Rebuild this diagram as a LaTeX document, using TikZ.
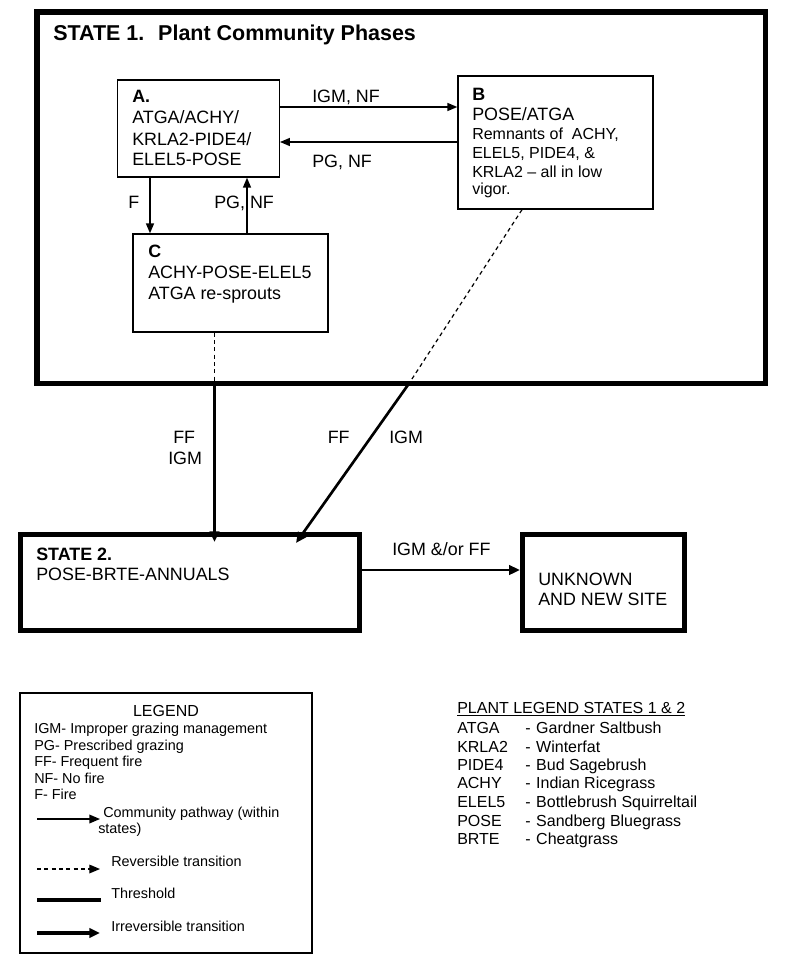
\documentclass[tikz,border=0pt]{standalone}
\usepackage{fontspec}
\setmainfont{Liberation Sans}
\usetikzlibrary{arrows.meta}
\begin{document}
\begin{tikzpicture}[x=0.75pt,y=-0.75pt,
  thinbox/.style={draw, rectangle, line width=1pt, inner sep=0pt},
  thickbox/.style={draw, rectangle, line width=3.6pt, inner sep=0pt},
  statebox/.style={draw, rectangle, line width=4.1pt, inner sep=0pt},
  txt/.style={anchor=base west, inner sep=0pt, font=\fontsize{13.4}{16}\selectfont},
  txtsm/.style={anchor=base west, inner sep=0pt, font=\fontsize{12}{14}\selectfont},
  bold/.style={anchor=base west, inner sep=0pt, font=\bfseries\fontsize{13.4}{16}\selectfont},
  leg/.style={anchor=base west, inner sep=0pt, font=\fontsize{10.8}{13}\selectfont},
  plant/.style={anchor=base west, inner sep=0pt, font=\fontsize{12}{14}\selectfont},
  pathway/.style={line width=1.1pt, -{Triangle[length=7.5pt,width=6pt]}},
  revers/.style={line width=0.9pt, dash pattern=on 3pt off 2.5pt},
  irrev/.style={line width=2pt, -{Triangle[length=8pt,width=7pt]}},
  thresh/.style={line width=3pt},
  legirrev/.style={line width=2.3pt, -{Triangle[length=8pt,width=7pt]}},
  legpath/.style={line width=1.1pt, -{Triangle[length=8pt,width=6.5pt]}},
  legrev/.style={line width=0.9pt, dash pattern=on 3pt off 2.5pt, -{Triangle[length=8pt,width=6.5pt]}}
]
\useasboundingbox (0,0) rectangle (800,977);
\fill[white] (0,0) rectangle (800,977);

% ---- boxes ----
\node[statebox, minimum width=546.4pt, minimum height=278.6pt] (S1) at (401.25,197.75) {};
\node[thinbox, minimum width=121.5pt, minimum height=72.75pt] (A) at (198.3,128.5) {};
\node[thinbox, minimum width=146.25pt, minimum height=99.75pt] (B) at (555.5,142.5) {};
\node[thinbox, minimum width=146.25pt, minimum height=73.5pt] (C) at (230.5,283) {};
\node[thickbox, minimum width=254.5pt, minimum height=72.3pt] (S2) at (190,582.5) {};
\node[thickbox, minimum width=121.8pt, minimum height=72.3pt] (U) at (603.5,582.5) {};
\node[thinbox, minimum width=219pt, minimum height=195pt] (L) at (166,823) {};

% ---- title ----
\node[anchor=base west, inner sep=0pt, font=\bfseries\fontsize{16.1}{19}\selectfont] (title) at (53,41) {STATE 1.~ Plant Community Phases};

% ---- box A text ----
\node[bold] (a0) at (132,103) {A.};
\node[txt] (a1) at (132,124) {ATGA/ACHY/};
\node[txt] (a2) at (132,146) {KRLA2-PIDE4/};
\node[txt] (a3) at (132,166) {ELEL5-POSE};

% ---- box B text ----
\node[bold] (b0) at (472,101) {B};
\node[txt] (b1) at (472,121) {POSE/ATGA};
\node[txtsm] (b2) at (472,140) {Remnants of~ ACHY,};
\node[txtsm] (b3) at (472,158) {ELEL5, PIDE4, \&};
\node[txtsm] (b4) at (472,177) {KRLA2 – all in low};
\node[txtsm] (b5) at (472,195) {vigor.};

% ---- box C text ----
\node[bold] (c0) at (148,257) {C};
\node[txt] (c1) at (148,278) {ACHY-POSE-ELEL5};
\node[txt] (c2) at (148,299) {ATGA re-sprouts};

% ---- state 2 and unknown text ----
\node[bold] (s20) at (36,560) {STATE 2.};
\node[txt] (s21) at (36,580) {POSE-BRTE-ANNUALS};
\node[txt] (u1) at (538,585) {UNKNOWN};
\node[txt] (u2) at (538,605) {AND NEW SITE};

% ---- helper coordinates ----
\coordinate (yAB) at (0,107);
\coordinate (yBA) at (0,142);
\coordinate (xAC) at (150,0);
\coordinate (xCA) at (247,0);
\coordinate (xCS) at (214.5,0);
\coordinate (xBS) at (522,0);
\coordinate (P1) at (214.5,383.5);
\coordinate (T1) at (214.5,542);
\coordinate (P2) at (409,383.5);
\coordinate (T2) at (296,543);
\coordinate (ySU) at (0,570);

% ---- connectors ----
\draw[pathway] (A.east |- yAB) -- (B.west |- yAB);
\draw[pathway] (B.west |- yBA) -- (A.east |- yBA);
\draw[pathway] (A.south -| xAC) -- (C.north -| xAC);
\draw[pathway] (C.north -| xCA) -- (A.south -| xCA);
\draw[revers] (C.south -| xCS) -- (P1);
\draw[irrev] (P1) -- (T1);
\draw[revers] (B.south -| xBS) -- (P2);
\draw[irrev] (P2) -- (T2);
\draw[irrev] (S2.east |- ySU) -- (U.west |- ySU);

% ---- connector labels ----
\node[txt] (l1) at (312,103) {IGM, NF};
\node[txt] (l2) at (312,167) {PG, NF};
\node[txt] (l3) at (128,208) {F};
\node[txt] (l4) at (214,208) {PG, NF};
\node[txt] (l5) at (173,443) {FF};
\node[txt] (l6) at (168,464) {IGM};
\node[txt] (l7) at (327.5,443) {FF};
\node[txt] (l8) at (389,443) {IGM};
\node[txt] (l9) at (392,555) {IGM \&/or FF};

% ---- legend ----
\node[anchor=base, inner sep=0pt, font=\fontsize{12}{14}\selectfont] (lg0) at (166,716) {LEGEND};
\node[leg] (lg1) at (34,733) {IGM- Improper grazing management};
\node[leg] (lg2) at (34,750) {PG- Prescribed grazing};
\node[leg] (lg3) at (34,766) {FF- Frequent fire};
\node[leg] (lg4) at (34,783) {NF- No fire};
\node[leg] (lg5) at (34,799) {F- Fire};
\node[leg] (lg6) at (103,817) {Community pathway (within};
\node[leg] (lg7) at (98,833) {states)};
\node[leg] (lg8) at (111,866) {Reversible transition};
\node[leg] (lg9) at (111,898) {Threshold};
\node[leg] (lg10) at (111,931) {Irreversible transition};
\coordinate (k1s) at (37,819);  \coordinate (k1e) at (100,819);
\coordinate (k2s) at (37,869);  \coordinate (k2e) at (100,869);
\coordinate (k3s) at (37,900);  \coordinate (k3e) at (101,900);
\coordinate (k4s) at (37,933);  \coordinate (k4e) at (100,933);
\draw[legpath] (k1s) -- (k1e);
\draw[legrev] (k2s) -- (k2e);
\draw[thresh] (k3s) -- (k3e);
\draw[legirrev] (k4s) -- (k4e);

% ---- plant legend ----
\node[plant] (p0) at (457,713) {\underline{PLANT LEGEND STATES 1 \& 2}};
\node[plant] (p1) at (457,733) {ATGA};
\node[plant] (p2) at (457,752) {KRLA2};
\node[plant] (p3) at (457,770) {PIDE4};
\node[plant] (p4) at (457,788) {ACHY};
\node[plant] (p5) at (457,807) {ELEL5};
\node[plant] (p6) at (457,826) {POSE};
\node[plant] (p7) at (457,844) {BRTE};
\node[plant] (q1) at (525,733) {-\hspace{4.2pt}Gardner Saltbush};
\node[plant] (q2) at (525,752) {-\hspace{4.2pt}Winterfat};
\node[plant] (q3) at (525,770) {-\hspace{4.2pt}Bud Sagebrush};
\node[plant] (q4) at (525,788) {-\hspace{4.2pt}Indian Ricegrass};
\node[plant] (q5) at (525,807) {-\hspace{4.2pt}Bottlebrush Squirreltail};
\node[plant] (q6) at (525,826) {-\hspace{4.2pt}Sandberg Bluegrass};
\node[plant] (q7) at (525,844) {-\hspace{4.2pt}Cheatgrass};
\end{tikzpicture}
\end{document}
